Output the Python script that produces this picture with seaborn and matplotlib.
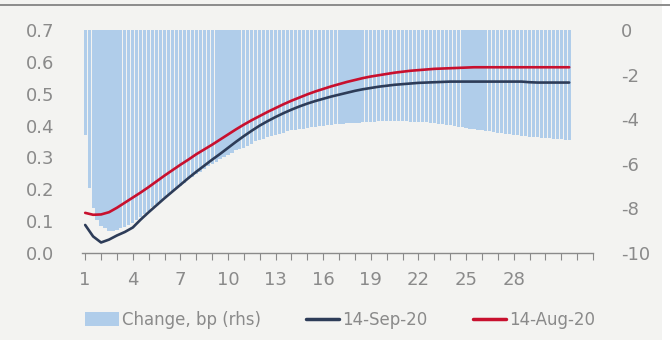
import numpy as np
import pandas as pd
import seaborn as sns
import matplotlib.pyplot as plt
from matplotlib.patches import Rectangle, Patch
from matplotlib.lines import Line2D

# ---------- data ----------
# change in bp (rhs), quarterly maturities from 1y to 31.5y
change_bp = [
    -4.70, -7.10, -8.00, -8.50,   # 1
    -8.80, -8.90, -9.00, -9.00,   # 2
    -8.95, -8.90, -8.85, -8.75,   # 3
    -8.65, -8.50, -8.40, -8.25,   # 4
    -8.10, -7.95, -7.80, -7.65,   # 5
    -7.50, -7.35, -7.25, -7.10,   # 6
    -7.00, -6.85, -6.70, -6.60,   # 7
    -6.45, -6.35, -6.25, -6.10,   # 8
    -6.00, -5.90, -5.80, -5.70,   # 9
    -5.60, -5.50, -5.40, -5.35,   # 10
    -5.30, -5.20, -5.10, -5.00,   # 11
    -4.95, -4.90, -4.80, -4.75,   # 12
    -4.70, -4.65, -4.60, -4.55,   # 13
    -4.50, -4.48, -4.45, -4.42,   # 14
    -4.40, -4.37, -4.35, -4.30,   # 15
    -4.30, -4.27, -4.25, -4.22,   # 16
    -4.20, -4.20, -4.18, -4.17,   # 17
    -4.15, -4.15, -4.14, -4.13,   # 18
    -4.12, -4.11, -4.10, -4.10,   # 19
    -4.10, -4.10, -4.10, -4.10,   # 20
    -4.10, -4.10, -4.11, -4.11,   # 21
    -4.12, -4.12, -4.13, -4.15,   # 22
    -4.17, -4.20, -4.22, -4.25,   # 23
    -4.28, -4.30, -4.33, -4.36,   # 24
    -4.40, -4.42, -4.45, -4.48,   # 25
    -4.50, -4.52, -4.55, -4.57,   # 26
    -4.60, -4.62, -4.65, -4.67,   # 27
    -4.70, -4.72, -4.74, -4.76,   # 28
    -4.78, -4.80, -4.82, -4.84,   # 29
    -4.85, -4.86, -4.88, -4.89,   # 30
    -4.90, -4.92, -4.95,          # 31
]
maturity_q = np.arange(1, 31.75, 0.25)

# yield curves (lhs), half-year maturities from 1y to 31.5y
maturity_h = np.arange(1, 32, 0.5)
sep_20 = [
    0.088, 0.052, 0.033, 0.042, 0.055, 0.066, 0.080, 0.105, 0.128, 0.150,
    0.172, 0.193, 0.214, 0.235, 0.255, 0.274, 0.293, 0.311, 0.330, 0.349,
    0.367, 0.384, 0.400, 0.414, 0.427, 0.439, 0.450, 0.460, 0.469, 0.477,
    0.484, 0.491, 0.497, 0.503, 0.509, 0.514, 0.518, 0.522, 0.525, 0.528,
    0.530, 0.532, 0.534, 0.535, 0.536, 0.537, 0.538, 0.538, 0.538, 0.538,
    0.538, 0.538, 0.538, 0.538, 0.538, 0.538, 0.536, 0.535, 0.535, 0.535,
    0.535, 0.535,
]
aug_20 = [
    0.126, 0.120, 0.121, 0.128, 0.142, 0.158, 0.174, 0.190, 0.207, 0.225,
    0.243, 0.260, 0.277, 0.293, 0.310, 0.325, 0.340, 0.356, 0.372, 0.388,
    0.403, 0.417, 0.430, 0.443, 0.455, 0.467, 0.478, 0.488, 0.498, 0.507,
    0.515, 0.523, 0.530, 0.537, 0.543, 0.549, 0.554, 0.558, 0.562, 0.566,
    0.569, 0.572, 0.574, 0.576, 0.578, 0.579, 0.580, 0.581, 0.582, 0.583,
    0.583, 0.583, 0.583, 0.583, 0.583, 0.583, 0.583, 0.583, 0.583, 0.583,
    0.583, 0.583,
]

BAR_C  = "#b0cdea"
SEP_C  = "#2d3c58"
AUG_C  = "#c8102e"
TXT_C  = "#8a8a8a"

sns.set_theme(style="white")
plt.rcParams["font.family"] = ["DejaVu Sans"]
plt.rcParams["axes.unicode_minus"] = False

fig = plt.figure(figsize=(6.7, 3.47), dpi=100, facecolor="white")
fig.patches.append(Rectangle((0, 0.02), 0.988, 0.98, transform=fig.transFigure,
                             facecolor="#f3f3f1", edgecolor="none", zorder=-10))
fig.add_artist(Line2D([0, 1], [0.9856, 0.9856], transform=fig.transFigure,
                      color="#8c8c8c", lw=1.4))

ax = fig.add_axes([0.1224, 0.2709, 0.7627, 0.6427])
ax.set_facecolor("none")

# bars on the rhs scale (drawn on the base axes so lines sit on top)
bars = pd.DataFrame({"maturity": maturity_q, "change": change_bp})
sns.barplot(data=bars, x="maturity", y="change", native_scale=True,
            color=BAR_C, saturation=1, width=0.8, errorbar=None,
            linewidth=0, ax=ax)

# curves on the lhs scale
ax2 = ax.twinx()
curves = pd.DataFrame({"maturity": maturity_h, "sep": sep_20, "aug": aug_20})
sns.lineplot(data=curves, x="maturity", y="sep", color=SEP_C, lw=1.9, ax=ax2)
sns.lineplot(data=curves, x="maturity", y="aug", color=AUG_C, lw=1.9, ax=ax2)

# rhs axis (bars)
ax.set_ylim(-10, 0)
ax.set_xlim(0.8, 33)
ax.set_yticks([0, -2, -4, -6, -8, -10])
ax.set_xticks(range(1, 34))
ax.set_xticklabels([str(v) if (v - 1) % 3 == 0 and v <= 28 else "" for v in range(1, 34)])
ax.tick_params(axis="x", length=5, width=0.8, color=TXT_C, bottom=True,
               pad=8, labelsize=13, labelcolor=TXT_C)
ax.tick_params(axis="y", length=0, pad=20, labelsize=13, labelcolor=TXT_C,
               left=False, labelleft=False, right=False, labelright=True)
ax.set_xlabel("")
ax.set_ylabel("")
for s in ["top", "left", "right"]:
    ax.spines[s].set_visible(False)
ax.spines["bottom"].set_color(TXT_C)
ax.spines["bottom"].set_linewidth(1)

# lhs axis (curves)
ax2.set_ylim(0, 0.7)
ax2.set_yticks(np.arange(0, 0.71, 0.1))
ax2.set_yticklabels([f"{v:.1f}" for v in np.arange(0, 0.71, 0.1)])
ax2.tick_params(axis="y", length=0, pad=20, labelsize=13, labelcolor=TXT_C,
                right=False, labelright=False, left=False, labelleft=True)
ax2.set_ylabel("")
for s in ax2.spines.values():
    s.set_visible(False)

handles = [Patch(facecolor=BAR_C, edgecolor="none"),
           Line2D([], [], color=SEP_C, lw=2.5),
           Line2D([], [], color=AUG_C, lw=2.5)]
labels = ["Change, bp (rhs)", "14-Sep-20", "14-Aug-20"]
fig.legend(handles, labels, loc="center", bbox_to_anchor=(0.508, 0.078), ncol=3,
           frameon=False, fontsize=12, labelcolor=TXT_C, handlelength=2.0,
           handletextpad=0.2, columnspacing=2.7, handleheight=0.9)

fig.savefig("out.png", dpi=100, facecolor=fig.get_facecolor())
